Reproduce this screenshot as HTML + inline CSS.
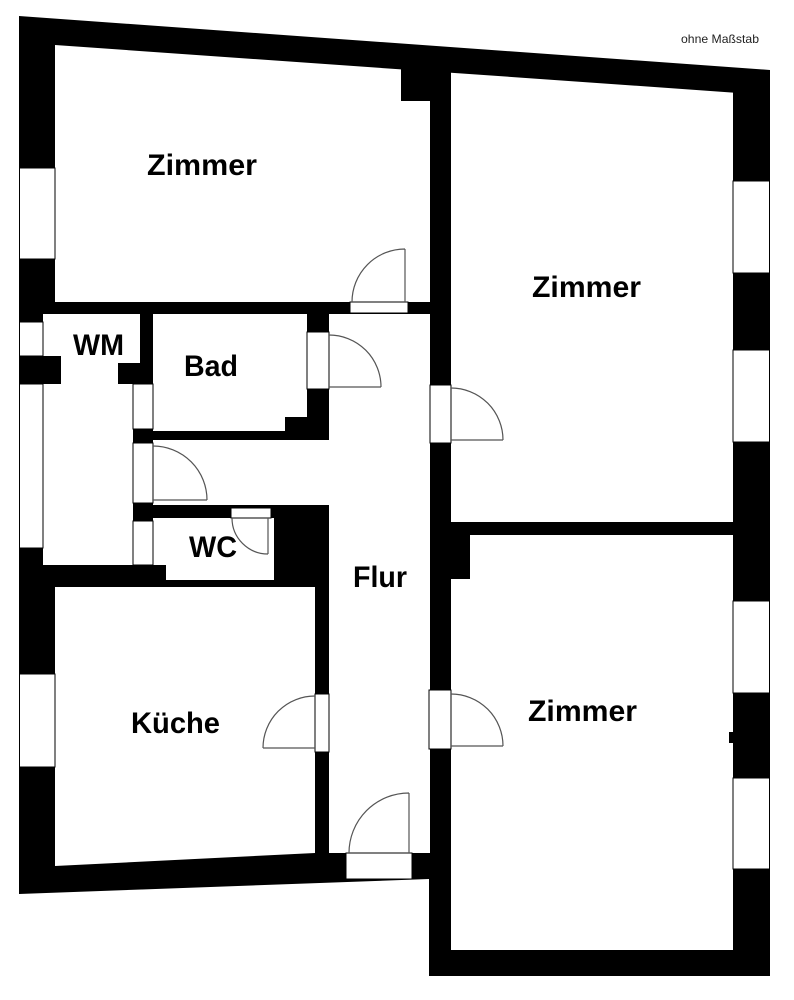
<!DOCTYPE html>
<html>
<head>
<meta charset="utf-8">
<style>
  html,body{margin:0;padding:0;background:#fff;}
  svg{display:block;}
  .lbl{font-family:"Liberation Sans",Arial,sans-serif;font-weight:bold;font-size:30px;fill:#000;}
  .op{fill:#fff;stroke:#000;stroke-width:1;}
  .dr{fill:none;stroke:#555;stroke-width:1.2;}
</style>
</head>
<body>
<svg width="794" height="1000" viewBox="0 0 794 1000" xmlns="http://www.w3.org/2000/svg">
  <rect width="794" height="1000" fill="#fff"/>
  <!-- building mass -->
  <polygon points="19,16 770,70 770,976 429,976 429,879 19,894" fill="#000"/>

  <!-- rooms -->
  <polygon fill="#fff" points="55,45 401,69.4 401,101 430,101 430,302 55,302"/>
  <polygon fill="#fff" points="451,72.7 733,92.6 733,522 451,522"/>
  <polygon fill="#fff" points="43,314 140,314 140,363 118,363 118,384 133,384 133,565 43,565 43,384 61,384 61,356 43,356"/>
  <polygon fill="#fff" points="153,314 307,314 307,417 285,417 285,431 153,431"/>
  <polygon fill="#fff" points="329,314 430,314 430,853 329,853 329,505 153,505 153,440 329,440"/>
  <polygon fill="#fff" points="153,518 274,518 274,580 166,580 166,565 153,565"/>
  <polygon fill="#fff" points="55,587 315,587 315,853 55,866"/>
  <polygon fill="#fff" points="470,535 733,535 733,950 451,950 451,579 470,579"/>

  <!-- windows -->
  <rect class="op" x="19.5" y="168" width="35.5" height="91"/>
  <rect class="op" x="19.5" y="322" width="23.5" height="34"/>
  <rect class="op" x="19.5" y="384" width="23.5" height="164"/>
  <rect class="op" x="19.5" y="674" width="35.5" height="93"/>
  <rect class="op" x="733" y="181" width="36.5" height="92"/>
  <rect class="op" x="733" y="350" width="36.5" height="92"/>
  <rect class="op" x="733" y="601" width="36.5" height="92"/>
  <rect class="op" x="733" y="778" width="36.5" height="91"/>
  <rect x="729" y="732" width="5" height="11" fill="#000"/>

  <!-- door openings / partitions -->
  <rect class="op" x="350" y="302" width="58" height="11"/>
  <rect class="op" x="307" y="332" width="22" height="57"/>
  <rect class="op" x="430" y="385" width="21" height="58"/>
  <rect class="op" x="133" y="384" width="20" height="45"/>
  <rect class="op" x="133" y="443" width="20" height="60"/>
  <rect class="op" x="133" y="521" width="20" height="44"/>
  <rect class="op" x="231" y="508" width="40" height="10"/>
  <rect class="op" x="315" y="694" width="14" height="58"/>
  <rect class="op" x="429" y="690" width="22" height="59"/>
  <rect class="op" x="346" y="853" width="66" height="26"/>

  <!-- door swings -->
  <path class="dr" d="M405,249 A53,53 0 0 0 352,302 M405,302 L405,249"/>
  <path class="dr" d="M329,335 A52,52 0 0 1 381,387 M329,387 L381,387"/>
  <path class="dr" d="M153,446 A54,54 0 0 1 207,500 M153,500 L207,500"/>
  <path class="dr" d="M232,518 A36,36 0 0 0 268,554 M268,518 L268,554"/>
  <path class="dr" d="M451,388 A52,52 0 0 1 503,440 M451,440 L503,440"/>
  <path class="dr" d="M315,696 A52,52 0 0 0 263,748 M315,748 L263,748"/>
  <path class="dr" d="M451,694 A52,52 0 0 1 503,746 M451,746 L503,746"/>
  <path class="dr" d="M409,793 A60,60 0 0 0 349,853 M409,853 L409,793"/>

  <!-- labels -->
  <text class="lbl" x="147" y="175" textLength="110" lengthAdjust="spacingAndGlyphs">Zimmer</text>
  <text class="lbl" x="532" y="297" textLength="109" lengthAdjust="spacingAndGlyphs">Zimmer</text>
  <text class="lbl" x="528" y="721" textLength="109" lengthAdjust="spacingAndGlyphs">Zimmer</text>
  <text class="lbl" x="131" y="733" textLength="89" lengthAdjust="spacingAndGlyphs">Küche</text>
  <text class="lbl" x="73" y="355" textLength="51" lengthAdjust="spacingAndGlyphs">WM</text>
  <text class="lbl" x="184" y="376" textLength="54" lengthAdjust="spacingAndGlyphs">Bad</text>
  <text class="lbl" x="189" y="557" textLength="48" lengthAdjust="spacingAndGlyphs">WC</text>
  <text class="lbl" x="353" y="587" textLength="54" lengthAdjust="spacingAndGlyphs">Flur</text>
  <text x="681" y="43" font-family="Liberation Sans, Arial, sans-serif" font-size="12" fill="#222" textLength="78" lengthAdjust="spacingAndGlyphs">ohne Maßstab</text>
</svg>
</body>
</html>
